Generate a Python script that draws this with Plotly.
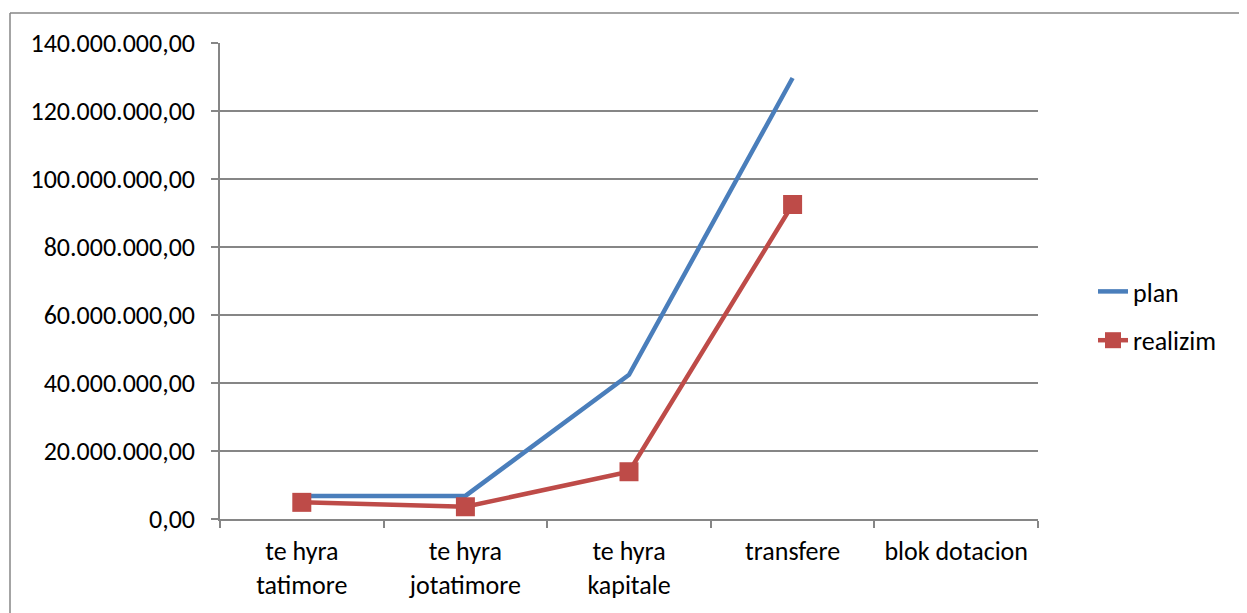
import plotly.graph_objects as go

categories = ["te hyra<br>tatimore", "te hyra<br>jotatimore", "te hyra<br>kapitale", "transfere", "blok dotacion"]
plan = [6800000, 6800000, 42400000, 129700000, None]
realizim = [4900000, 3600000, 13900000, 92500000, None]
y_ticks = [0, 20000000, 40000000, 60000000, 80000000, 100000000, 120000000, 140000000]
y_tick_labels = ["0,00", "20.000.000,00", "40.000.000,00", "60.000.000,00", "80.000.000,00",
                 "100.000.000,00", "120.000.000,00", "140.000.000,00"]

FONT = "Carlito, Calibri, Lato, sans-serif"
FS = 26

fig = go.Figure()
fig.add_trace(go.Scatter(x=categories, y=plan, name="plan", mode="lines", legendgroup="a",
                         line=dict(color="#4A7EBB", width=4.5)))
fig.add_trace(go.Scatter(x=categories, y=realizim, name="realizim", mode="lines+markers", legendgroup="b",
                         line=dict(color="#BE4B48", width=4.5),
                         marker=dict(symbol="square", size=19, color="#BE4B48")))

W, H = 1247, 613
OFF = 8  # page offset
L, R, T, B = 220 - OFF, 1038 - OFF, 43 - OFF, 519 - OFF
pw, ph = R - L, B - T

def px(x):
    return (x - OFF - L) / pw

def py(y):
    return (B - (y - OFF)) / ph

fig.update_layout(
    width=W, height=H,
    margin=dict(l=L, r=W - R, t=T, b=H - B),
    paper_bgcolor="white", plot_bgcolor="white",
    font=dict(family=FONT, size=FS, color="#000000"),
    showlegend=True,
    legend=dict(x=px(1093), y=py(268), xanchor="left", yanchor="top",
                font=dict(size=FS), tracegroupgap=12, traceorder="grouped",
                bgcolor="rgba(0,0,0,0)"),
    xaxis=dict(showgrid=False, showline=True, linecolor="#868686", linewidth=1.5,
               ticks="outside", tickson="boundaries", ticklen=7, tickcolor="#868686",
               tickwidth=1.5, tickfont=dict(size=FS), range=[-0.5, 4.5],
               ticklabelstandoff=8),
    yaxis=dict(range=[0, 140000000], tickvals=y_ticks, ticktext=y_tick_labels,
               showgrid=True, gridcolor="#868686", gridwidth=1.5,
               showline=True, linecolor="#868686", linewidth=1.5,
               ticks="outside", ticklen=7, tickcolor="#868686", tickwidth=1.5,
               tickfont=dict(size=FS), zeroline=False, ticklabelstandoff=11),
    shapes=[
        dict(type="line", xref="paper", yref="paper", x0=px(10), x1=px(1260), y0=py(13), y1=py(13),
             line=dict(color="#868686", width=1.5)),
        dict(type="line", xref="paper", yref="paper", x0=px(10), x1=px(10), y0=py(13), y1=py(640),
             line=dict(color="#868686", width=1.5)),
    ],
)

fig.write_html("out.html")
